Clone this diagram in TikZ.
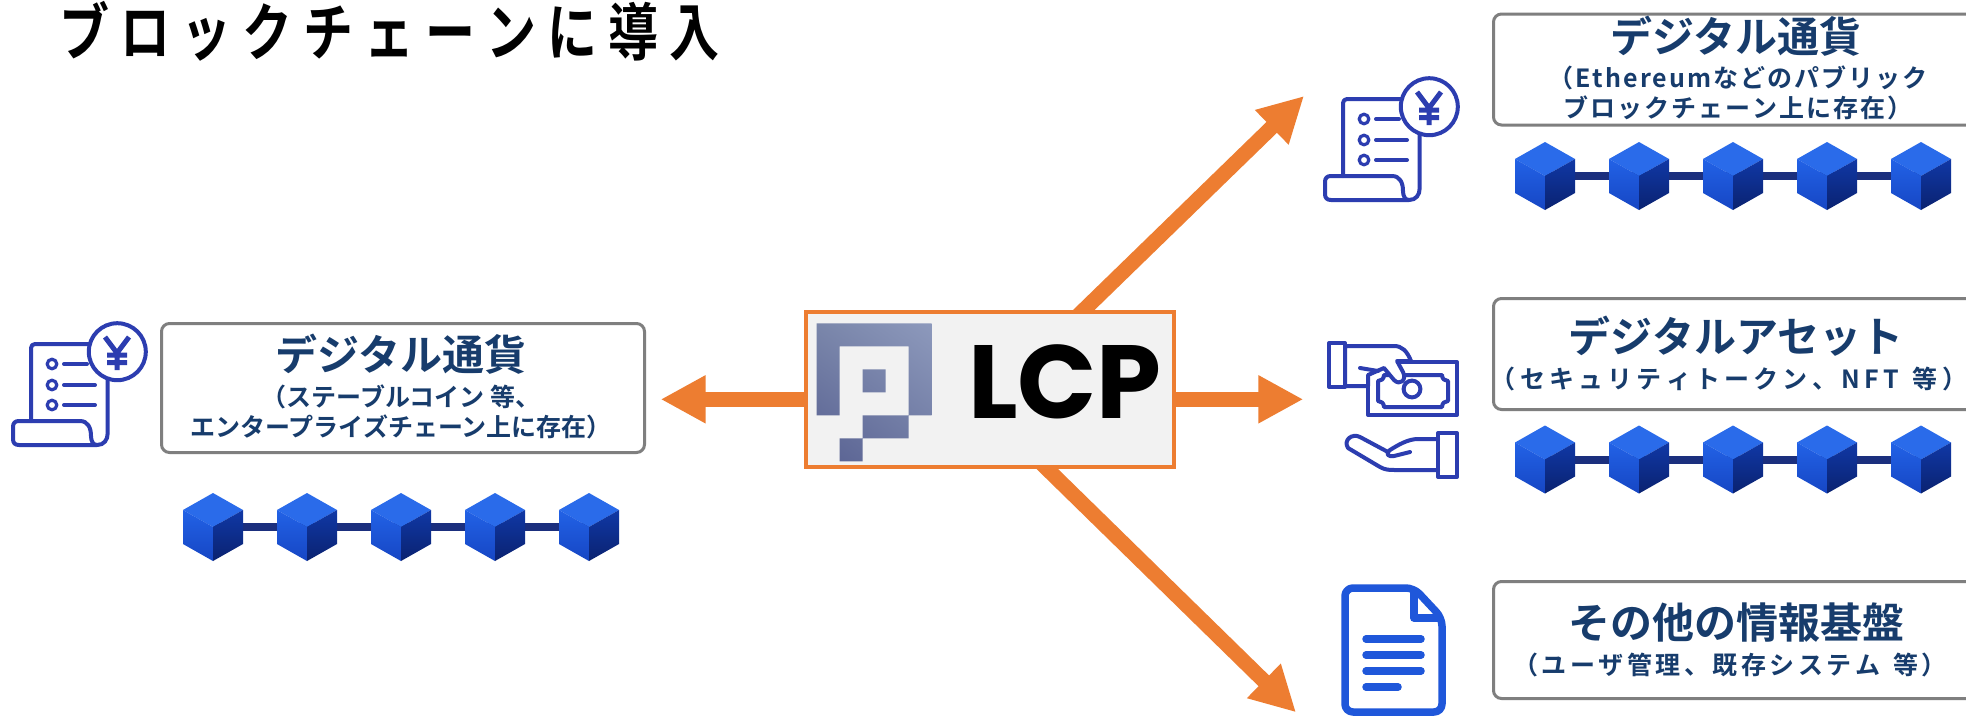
\documentclass[tikz,border=0pt]{standalone}
\usepackage{fontspec}
\usetikzlibrary{arrows.meta,backgrounds,shadings}
\newfontfamily\jpb{Noto Sans CJK JP}[UprightFont=* Bold]
\newfontfamily\lcpf{Poppins}

\definecolor{lcporange}{HTML}{ED7D31}
\definecolor{framegray}{HTML}{7F7F7F}
\definecolor{navytext}{HTML}{173C6C}
\definecolor{iconblue}{HTML}{2C3DB0}
\definecolor{docblue}{HTML}{1F57DA}
\definecolor{cubetop}{HTML}{2A6BEA}
\definecolor{cubelefthi}{HTML}{2262E6}
\definecolor{cubeleftlo}{HTML}{1646C4}
\definecolor{cuberighthi}{HTML}{1038A6}
\definecolor{cuberightlo}{HTML}{0A2270}
\definecolor{chainnavy}{HTML}{1B2F7E}
\definecolor{lcpfill}{HTML}{F2F2F2}
\definecolor{logoUL}{RGB}{122,134,170}
\definecolor{logoUR}{RGB}{141,153,188}
\definecolor{logoLL}{RGB}{88,97,146}
\definecolor{logoLR}{RGB}{110,121,162}

% letter-spaced text: #1 extra space between characters
\makeatletter
\newcommand\spaced[2]{\def\sp@k{\kern#1}\@tfor\sp@c:=#2\do{\sp@c\sp@k}\unkern}
\makeatother

\tikzset{
  panel/.style={draw=framegray, line width=1.5pt, rounded corners=4pt, fill=white, inner sep=0pt},
  ttl/.style={font=\jpb\fontsize{21pt}{25pt}\selectfont, text=navytext, inner sep=0pt},
  subttl/.style={font=\jpb\fontsize{12.5pt}{15pt}\selectfont, text=navytext, inner sep=0pt, align=center},
  arr/.style={draw=lcporange, line width=7.5pt, -{Triangle[length=22.5pt,width=22.5pt]}},
  icon/.style={draw=iconblue, line width=2pt, line cap=round, line join=round},
  cubeblock/.pic={
    \fill[cubetop] (0,-34) -- (30,-17) -- (0,0) -- (-30,-17) -- cycle;
    \shade[top color=cubelefthi, bottom color=cubeleftlo] (-30,-17) -- (0,0) -- (0,34) -- (-30,17) -- cycle;
    \shade[top color=cuberighthi, bottom color=cuberightlo] (0,0) -- (30,-17) -- (30,17) -- (0,34) -- cycle;
  },
  receipt/.pic={
    \draw[icon, rounded corners=2pt] (31,421) -- (31,344) -- (89,344);
    \draw[icon] (117.3,351.7) circle[radius=14.25pt];
    \draw[icon] (107.7,379) -- (107.7,433) .. controls (107.7,440) and (104,445) .. (97,445)
      -- (19,445) .. controls (15,445) and (13,443) .. (13,439) -- (13,427)
      .. controls (13,423) and (15,421) .. (19,421) -- (80,421)
      .. controls (88,421) and (91,428) .. (91,436) .. controls (91,441) and (93,445) .. (97,445);
    \draw[icon, line width=1.6pt] (52,364) circle[radius=2.4pt] (52,385) circle[radius=2.4pt] (52,405) circle[radius=2.4pt];
    \draw[icon] (64,364) -- (87,364) (64,385) -- (95,385) (64,405) -- (95,405);
    \draw[icon, line width=2.5pt, line cap=butt] (105,337) -- (117,353) -- (129,337) (117,353) -- (117,370)
      (107,355) -- (127,355) (107,362.5) -- (127,362.5);
  },
}

\newcommand\blockrow[2]{%
  \draw[chainnavy, line width=4pt] (#1,#2) -- ++(376,0);
  \foreach \k in {0,...,4} \pic at ({#1+94*\k},#2) {cubeblock};
}

\begin{document}
\begin{tikzpicture}[x=0.5pt, y=-0.5pt]
\useasboundingbox (0,0) rectangle (1966,719);
\clip (0,0) rectangle (1966,719);
\begin{scope}[on background layer]
  \fill[white] (0,0) rectangle (1966,719);
\end{scope}

% heading
\node[anchor=west, inner sep=0pt, font=\jpb\fontsize{25pt}{30pt}\selectfont] (heading) at (59,31)
  {\scalebox{1}[1.25]{\spaced{5.5pt}{ブロックチェーンに導入}}};

% LCP hub
\node[draw=lcporange, fill=lcpfill, line width=2pt, minimum width=184pt, minimum height=77.5pt, inner sep=0pt] (lcp) at (990,389.5) {};
\shade[upper left=logoUL, upper right=logoUR, lower left=logoLL, lower right=logoLR]
  (816.7,323.3) rectangle (931.7,346.3)
  (816.7,346.3) rectangle (839.7,415.3)
  (908.7,346.3) rectangle (931.7,415.3)
  (862.7,369.3) rectangle (885.7,392.3)
  (862.7,415.3) rectangle (908.7,438.3)
  (839.7,438.3) rectangle (862.7,461.3);
\node[anchor=base, inner sep=0pt, font=\lcpf\bfseries\fontsize{52pt}{60pt}\selectfont] (lcptext) at (1065,418.3) {LCP};

% left: digital currency on enterprise chains
\pic at (0,0) {receipt};
\node[panel, minimum width=241.5pt, minimum height=64.5pt] (boxL) at (403,388) {};
\node[ttl] (ttlL) at (401,354) {デジタル通貨};
\node[subttl] (subL) at (401,412) {（ステーブルコイン 等、\\エンタープライズチェーン上に存在）};
\blockrow{213}{527}

% right top: digital currency on public chains
\pic at (1312,-245) {receipt};
\node[panel, minimum width=250pt, minimum height=55.5pt] (boxA) at (1743.5,69.5) {};
\node[ttl] (ttlA) at (1736,36) {デジタル通貨};
\node[subttl] (subA) at (1738,92.75) {\spaced{1pt}{（Ethereumなどのパブリック}\\\spaced{1pt}{ブロックチェーン上に存在）}};
\blockrow{1545}{176}

% right middle: digital assets (hand passing a banknote to an open hand)
\draw[icon] (1400,362) -- (1457,362) -- (1457,415) -- (1368,415) -- (1368,375);
\draw[icon] (1384,375) -- (1442,375) .. controls (1442,379) and (1445,381) .. (1448,381) -- (1448,401)
  .. controls (1445,401) and (1442,403) .. (1442,407) -- (1384,407) .. controls (1384,403) and (1381,401) .. (1378,401)
  -- (1378,381) .. controls (1381,381) and (1384,379) .. (1384,375) -- cycle;
\draw[icon] (1412,389) circle[radius=4.2pt];
\draw[icon] (1329,343) rectangle (1345,387);
\filldraw[icon, fill=white] (1345,346) -- (1394,346) .. controls (1402,346) and (1407,351) .. (1411,361)
  -- (1397,361) -- (1403,372) .. controls (1407,380) and (1400,386) .. (1394,380) -- (1384,368)
  -- (1368,375) -- (1368,386) -- (1345,386) -- cycle;
\draw[icon] (1360,368) -- (1378,371);
\draw[icon] (1438,433) rectangle (1457,477);
\draw[icon] (1438,439) -- (1418,439) .. controls (1408,439) and (1398,445) .. (1390,450)
  .. controls (1385,454) and (1388,457) .. (1394,456) -- (1410,452);
\draw[icon] (1388,452) -- (1360,437) .. controls (1352,433) and (1343,440) .. (1348,448)
  -- (1380,467) .. controls (1385,470) and (1390,470) .. (1395,470) -- (1438,470);
\node[panel, minimum width=250pt, minimum height=55.5pt] (boxB) at (1743.5,354) {};
\node[ttl] (ttlB) at (1736,336) {デジタルアセット};
\node[subttl] (subB) at (1729,378.6) {\spaced{2.1pt}{（セキュリティトークン、NFT~等）}};
\blockrow{1545}{459.5}

% right bottom: other information systems
\draw[docblue, line width=3.75pt, line join=round, rounded corners=4pt]
  (1345,588) -- (1414,588) -- (1442,618) -- (1442,712) -- (1345,712) -- cycle;
\draw[docblue, line width=3.75pt, line join=round] (1414,590) -- (1414,618) -- (1440,618);
\draw[docblue, line width=3.75pt, line cap=round]
  (1366,639) -- (1421,639) (1366,655) -- (1421,655) (1366,671) -- (1421,671) (1366,687) -- (1398,687);
\node[panel, minimum width=250pt, minimum height=58.5pt] (boxC) at (1743.5,640) {};
\node[ttl] (ttlC) at (1736,623) {その他の情報基盤};
\node[subttl] (subC) at (1730,664.5) {\spaced{1.75pt}{（ユーザ管理、既存システム~等）}};

% arrows out of the hub, under its frame
\coordinate (tipL) at (660.7,399.3);
\coordinate (tipR) at (1303.3,399.3);
\coordinate (tipU) at (1304,96);
\coordinate (tipD) at (1296,712.3);
\begin{scope}[on background layer]
  \draw[arr] (lcp.west |- tipL) -- (tipL);
  \draw[arr] (lcp.east |- tipR) -- (tipR);
  \draw[arr] ([xshift=6pt]lcp.center) -- (tipU);
  \draw[arr] ([xshift=-12pt]lcp.center) -- (tipD);
\end{scope}
\end{tikzpicture}
\end{document}
